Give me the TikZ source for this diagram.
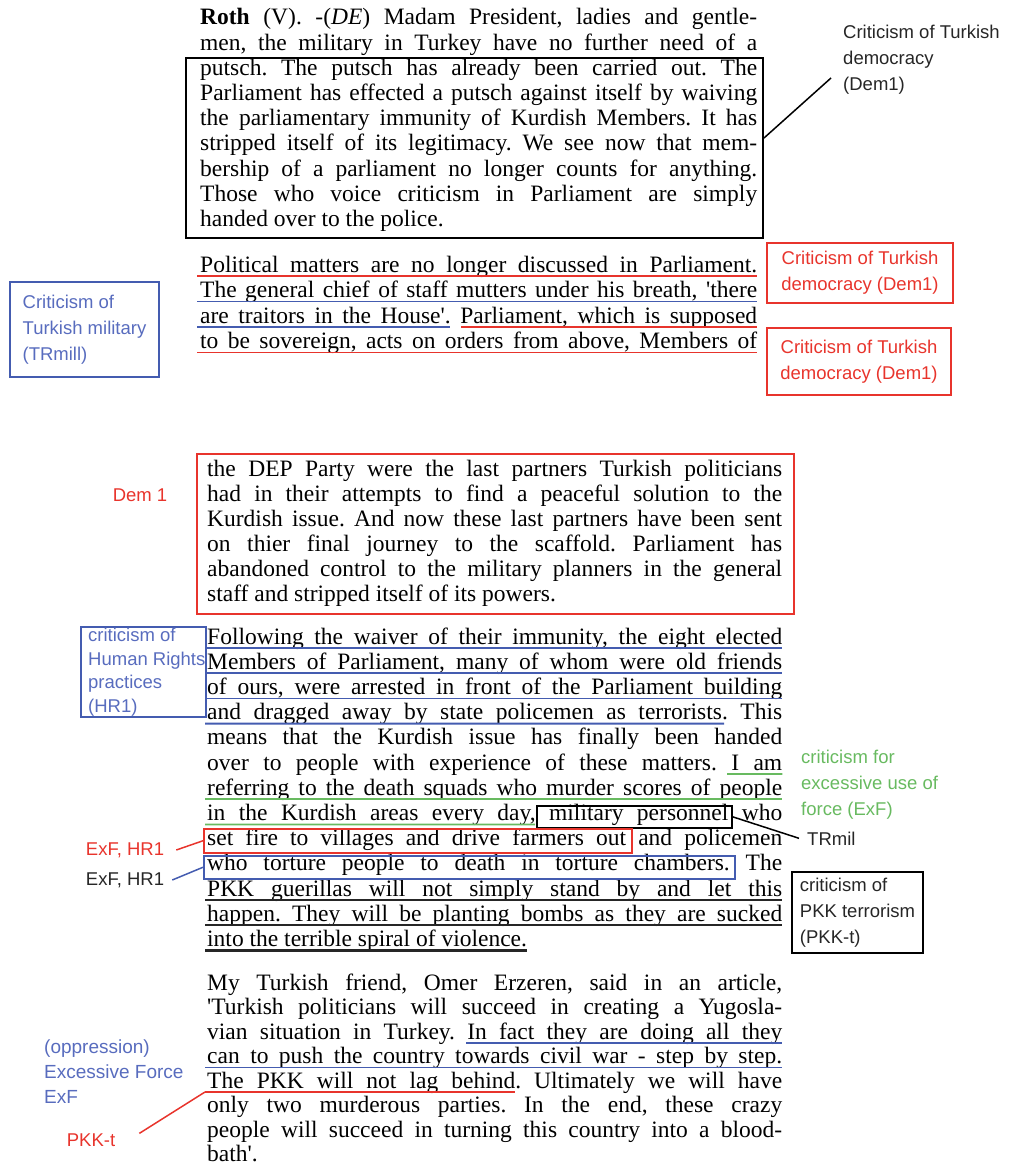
\documentclass[tikz,border=0pt]{standalone}
\usepackage{fontspec}
\newfontfamily\bodyserif{Liberation Serif}
\newfontfamily\lblsans{Liberation Sans}
\definecolor{annred}{RGB}{232,52,44}
\definecolor{annblue}{RGB}{68,92,176}
\definecolor{lblblue}{RGB}{88,108,190}
\definecolor{anngreen}{RGB}{104,186,96}
\newcommand{\jl}[2]{\makebox[#1][s]{#2}}
\frenchspacing

\begin{document}
\begin{tikzpicture}[x=1pt, y=-1pt,
  txt/.style={anchor=base west, inner sep=0pt, font=\bodyserif\fontsize{23.5}{25}\selectfont},
  lbl/.style={inner sep=0pt, align=left, font=\lblsans\fontsize{18.5}{26}\selectfont},
  ubox/.style={draw, line width=1.5pt, anchor=north west, inner sep=0pt},
  uline/.style={line width=1.8pt},
  conn/.style={line width=1.5pt}]
\useasboundingbox (0,0) rectangle (1010,1166);

% first paragraph
\foreach \words [count=\i from 0] in {
  {\textbf{Roth} (V). -(\textit{DE}) Madam President, ladies and gentle-},
  {men, the military in Turkey have no further need of a},
  {putsch. The putsch has already been carried out. The},
  {Parliament has effected a putsch against itself by waiving},
  {the parliamentary immunity of Kurdish Members. It has},
  {stripped itself of its legitimacy. We see now that mem-},
  {bership of a parliament no longer counts for anything.},
  {Those who voice criticism in Parliament are simply}}
  \node[txt] (roth-\i) at (200,25+25.2*\i) {\jl{557pt}{\words}};
\node[txt] (roth-8) at (200,226.6) {handed over to the police.};
\node[ubox, line width=2pt, minimum width=577, minimum height=180] (putschbox) at (185,57) {};
\node[lbl, anchor=base west, text=black!85] (dem1top) at (843,91) {Criticism of Turkish\\democracy\\(Dem1)};
\coordinate (dem1tip) at (831,78);
\draw[conn] ([yshift=10pt]putschbox.east) -- (dem1tip);

% second paragraph
\foreach \words [count=\i from 0] in {
  {Political matters are no longer discussed in Parliament.},
  {The general chief of staff mutters under his breath, 'there},
  {are traitors in the House'. Parliament, which is supposed},
  {to be sovereign, acts on orders from above, Members of}}
  \node[txt] (pol-\i) at (200,272+25.5*\i) {\jl{557pt}{\words}};
\draw[uline, annred] ([shift={(-3pt,-4pt)}]pol-0.base west) -- ([yshift=-4pt]pol-0.base east);
\draw[uline, annblue] ([shift={(-3pt,-4pt)}]pol-1.base west) -- ([yshift=-4pt]pol-1.base east);
\draw[uline, annblue] ([shift={(-3pt,-4pt)}]pol-2.base west) -- (450,327);
\draw[uline, annred] (461,327) -- ([yshift=-4pt]pol-2.base east);
\draw[uline, annred] ([shift={(-3pt,-4pt)}]pol-3.base west) -- ([yshift=-4pt]pol-3.base east);
\node[lbl, draw=annred, text=annred, align=center, line width=1.5pt, minimum width=186, minimum height=60] (demred-a) at (860,273) {Criticism of Turkish\\democracy (Dem1)};
\node[lbl, draw=annred, text=annred, align=center, line width=1.5pt, minimum width=184, minimum height=67] (demred-b) at (859,361.5) {Criticism of Turkish\\democracy (Dem1)};
\node[lbl, draw=annblue, text=lblblue, line width=1.5pt, minimum width=149, minimum height=95] (trmill) at (84.5,329.5) {Criticism of\\Turkish military\\(TRmill)};

% third paragraph
\foreach \words [count=\i from 0] in {
  {the DEP Party were the last partners Turkish politicians},
  {had in their attempts to find a peaceful solution to the},
  {Kurdish issue. And now these last partners have been sent},
  {on thier final journey to the scaffold. Parliament has},
  {abandoned control to the military planners in the general}}
  \node[txt] (dep-\i) at (207,476+25*\i) {\jl{575pt}{\words}};
\node[txt] (dep-5) at (207,601) {staff and stripped itself of its powers.};
\node[ubox, draw=annred, line width=2pt, minimum width=597, minimum height=160] (depbox) at (196,453) {};
\node[lbl, text=annred] (dem1side) at (140,495) {Dem 1};

% fourth paragraph
\foreach \words [count=\i from 0] in {
  {Following the waiver of their immunity, the eight elected},
  {Members of Parliament, many of whom were old friends},
  {of ours, were arrested in front of the Parliament building},
  {and dragged away by state policemen as terrorists. This},
  {means that the Kurdish issue has finally been handed},
  {over to people with experience of these matters. I am},
  {referring to the death squads who murder scores of people},
  {in the Kurdish areas every day, military personnel who},
  {set fire to villages and drive farmers out and policemen},
  {who torture people to death in torture chambers. The},
  {PKK guerillas will not simply stand by and let this},
  {happen. They will be planting bombs as they are sucked}}
  \node[txt] (waiv-\i) at (207,644+25.2*\i) {\jl{575pt}{\words}};
\node[txt] (waiv-12) at (207,946.4) {into the terrible spiral of violence.};
\foreach \i in {0,1,2}
  \draw[uline, annblue] ([shift={(-2pt,-4pt)}]waiv-\i.base west) -- ([yshift=-4pt]waiv-\i.base east);
\draw[uline, annblue] ([shift={(-2pt,-4pt)}]waiv-3.base west) -- (724,723.6);
\node[ubox, draw=annblue, minimum width=125, minimum height=90] (hrbox) at (80,626) {};
\node[lbl, anchor=base west, text=lblblue, font=\lblsans\fontsize{18.5}{23.5}\selectfont] (hrlbl) at (88,712) {criticism of\\Human Rights\\practices\\(HR1)};
\draw[uline, anngreen] (727,774) -- ([yshift=-4pt]waiv-5.base east);
\draw[uline, anngreen] ([shift={(-2pt,-4pt)}]waiv-6.base west) -- ([yshift=-4pt]waiv-6.base east);
\draw[uline, anngreen] ([shift={(-2pt,-4pt)}]waiv-7.base west) -- (535,824.4);
\node[lbl, anchor=base west, text=anngreen] (exflbl) at (801,815) {criticism for\\excessive use of\\force (ExF)};
\node[ubox, minimum width=195, minimum height=22] (milbox) at (536,805) {};
\node[ubox, draw=annred, minimum width=428, minimum height=24] (firebox) at (203,828) {};
\node[ubox, draw=annblue, minimum width=531, minimum height=23] (tortbox) at (203,855) {};
\node[lbl, anchor=base west, text=black!85] (trmil) at (807,845) {TRmil};
\draw[conn] (milbox.east) -- ([xshift=-8pt]trmil.west);
\node[lbl, text=annred] (exfa) at (125,850) {ExF, HR1};
\node[lbl, text=black!85] (exfb) at (125,880) {ExF, HR1};
\draw[conn, annred] ([xshift=12pt]exfa.east) -- (firebox.west);
\draw[conn, annblue] ([xshift=8pt]exfb.east) -- (tortbox.west);
\foreach \i in {10,11}
  \draw[uline, line width=2.2pt, black!85] ([shift={(-2pt,-4pt)}]waiv-\i.base west) -- ([yshift=-4pt]waiv-\i.base east);
\draw[uline, line width=2.2pt, black!85] ([shift={(-2pt,-4pt)}]waiv-12.base west) -- ([yshift=-4pt]waiv-12.base east);
\node[lbl, draw, text=black!85, line width=1.5pt, minimum width=131, minimum height=81] (pkkbox) at (857.5,912.5) {criticism of\\PKK terrorism\\(PKK-t)};

% fifth paragraph
\foreach \words [count=\i from 0] in {
  {My Turkish friend, Omer Erzeren, said in an article,},
  {'Turkish politicians will succeed in creating a Yugosla-},
  {vian situation in Turkey. In fact they are doing all they},
  {can to push the country towards civil war - step by step.},
  {The PKK will not lag behind. Ultimately we will have},
  {only two murderous parties. In the end, these crazy},
  {people will succeed in turning this country into a blood-}}
  \node[txt] (omer-\i) at (207,990+24.5*\i) {\jl{575pt}{\words}};
\node[txt] (omer-7) at (207,1161.5) {bath'.};
\draw[uline, annblue] (466,1043) -- ([yshift=-4pt]omer-2.base east);
\draw[uline, annblue] ([shift={(-2pt,-4pt)}]omer-3.base west) -- ([yshift=-4pt]omer-3.base east);
\coordinate (pkkul) at (205,1092);
\draw[uline, annred] (pkkul) -- (515,1092);
\node[lbl, anchor=base west, text=lblblue, font=\lblsans\fontsize{19}{25}\selectfont] (oppr) at (44,1103) {(oppression)\\Excessive Force\\ExF};
\node[lbl, text=annred] (pkkt) at (91,1140) {PKK-t};
\draw[conn, annred] ([xshift=24pt]pkkt.north east) -- (pkkul);
\end{tikzpicture}
\end{document}
